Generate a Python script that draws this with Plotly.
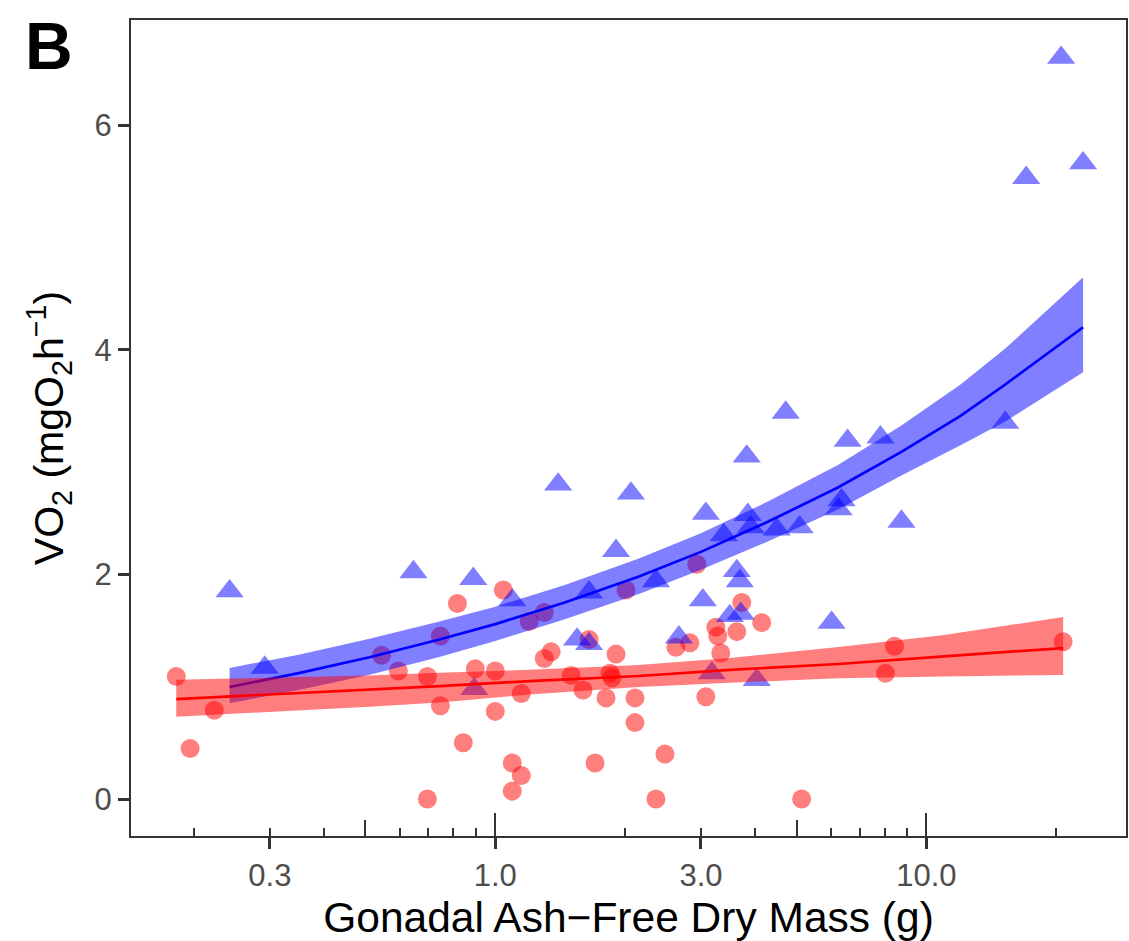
import plotly.graph_objects as go

# ---------------- data ----------------
red_x = [0.182, 0.196, 0.223, 0.545, 0.596, 0.696, 0.696, 0.746, 0.746, 0.817,
         0.843, 0.899, 1.0, 1.0, 1.044, 1.095, 1.149, 1.095, 1.149, 1.199,
         1.299, 1.299, 1.348, 1.500, 1.598, 1.704, 1.650, 1.906, 1.807, 1.846,
         1.866, 2.010, 2.109, 2.109, 2.475, 2.359, 2.624, 2.828, 2.935, 3.079,
         3.248, 3.282, 3.335, 3.633, 3.731, 4.150, 5.136, 8.434, 8.038, 20.76]
red_y = [1.09, 0.45, 0.79, 1.28, 1.14, 1.09, 0.0, 1.45, 0.83, 1.74,
         0.50, 1.16, 1.14, 0.78, 1.86, 0.32, 0.21, 0.07, 0.94, 1.58,
         1.66, 1.25, 1.31, 1.10, 0.97, 0.32, 1.42, 1.29, 0.90, 1.12,
         1.08, 1.86, 0.90, 0.68, 0.40, 0.0, 1.35, 1.39, 2.09, 0.91,
         1.53, 1.45, 1.30, 1.49, 1.75, 1.57, 0.0, 1.36, 1.12, 1.40]

blue_x = [0.242, 0.292, 0.646, 0.889, 0.894, 1.095, 1.399, 2.064, 1.906, 1.650,
          2.359, 3.389, 3.079, 3.852, 3.913, 4.497, 5.082, 3.633, 3.691, 3.030,
          3.500, 3.711, 1.548, 1.650, 2.667, 3.180, 4.042, 3.831, 4.717, 6.564,
          7.823, 15.24, 6.357, 6.257, 8.754, 6.028, 20.54, 17.04, 23.09]
blue_y = [1.85, 1.17, 2.02, 1.96, 0.98, 1.77, 2.80, 2.72, 2.21, 1.84,
          1.94, 2.35, 2.54, 2.53, 2.42, 2.40, 2.42, 2.03, 1.94, 1.77,
          1.63, 1.65, 1.42, 1.38, 1.44, 1.12, 1.06, 3.05, 3.44, 3.19,
          3.22, 3.35, 2.66, 2.58, 2.47, 1.57, 6.60, 5.53, 5.66]

# fitted curves and confidence bands
blue_fit_x = [0.242, 0.35, 0.511, 0.742, 1.0, 1.45, 2.154, 3.0, 4.3, 6.25, 8.75, 12.0, 15.24, 23.09]
blue_fit = [0.997, 1.12, 1.262, 1.42, 1.557, 1.75, 1.98, 2.20, 2.47, 2.775, 3.09, 3.41, 3.69, 4.20]
blue_hi = [1.167, 1.285, 1.427, 1.58, 1.712, 1.905, 2.14, 2.365, 2.65, 2.975, 3.325, 3.69, 4.01, 4.645]
blue_lo = [0.852, 0.97, 1.107, 1.265, 1.407, 1.60, 1.825, 2.04, 2.295, 2.58, 2.88, 3.15, 3.36, 3.80]

red_fit_x = [0.182, 0.3, 0.511, 0.742, 1.2, 2.154, 3.5, 6.25, 11.0, 20.76]
red_fit = [0.890, 0.930, 0.979, 1.004, 1.05, 1.095, 1.15, 1.202, 1.27, 1.344]
red_hi = [1.062, 1.082, 1.10, 1.125, 1.150, 1.193, 1.255, 1.353, 1.46, 1.620]
red_lo = [0.733, 0.774, 0.822, 0.86, 0.93, 0.997, 1.035, 1.075, 1.09, 1.104]

# axis ticks
x_tick_vals = [0.3, 1, 3, 10]
x_tick_text = ["0.3", "1.0", "3.0", "10.0"]
y_tick_vals = [0, 2, 4, 6]
log_short = [0.2, 0.4, 0.6, 0.7, 0.8, 0.9, 2, 4, 6, 7, 8, 9, 20]
log_short_on_major = [0.3, 3]
log_mid = [0.5, 5]
log_long = [1, 10]

X_RANGE = [-0.8449, 1.463]
Y_RANGE = [-0.3294, 6.935]

FONT = "Liberation Sans, Arial, Helvetica, sans-serif"
AXC = "#333333"

fig = go.Figure()

fig.add_trace(go.Scatter(x=red_x, y=red_y, mode="markers",
                         marker=dict(symbol="circle", size=19, color="rgba(255,0,0,0.5)",
                                     line=dict(width=0)),
                         hoverinfo="skip", showlegend=False))
fig.add_trace(go.Scatter(x=blue_x, y=blue_y, mode="markers",
                         marker=dict(symbol="triangle-up", size=24.5, color="rgba(0,0,255,0.5)",
                                     line=dict(width=0)),
                         hoverinfo="skip", showlegend=False))

def band(xs, lo, hi, col):
    return go.Scatter(x=list(xs) + list(xs)[::-1], y=list(hi) + list(lo)[::-1],
                      mode="lines", fill="toself", fillcolor=col,
                      line=dict(width=0), hoverinfo="skip", showlegend=False)

fig.add_trace(band(blue_fit_x, blue_lo, blue_hi, "rgba(0,0,255,0.5)"))
fig.add_trace(go.Scatter(x=blue_fit_x, y=blue_fit, mode="lines",
                         line=dict(color="#0000FF", width=2.7),
                         hoverinfo="skip", showlegend=False))
fig.add_trace(band(red_fit_x, red_lo, red_hi, "rgba(255,0,0,0.5)"))
fig.add_trace(go.Scatter(x=red_fit_x, y=red_fit, mode="lines",
                         line=dict(color="#FF0000", width=2.7),
                         hoverinfo="skip", showlegend=False))

# empty traces to register overlay axes for log tick marks
fig.add_trace(go.Scatter(x=[], y=[], xaxis="x2", yaxis="y", showlegend=False, hoverinfo="skip"))
fig.add_trace(go.Scatter(x=[], y=[], xaxis="x3", yaxis="y", showlegend=False, hoverinfo="skip"))

fig.update_layout(
    width=1129, height=941,
    margin=dict(l=131, r=1, t=20, b=105),
    paper_bgcolor="white", plot_bgcolor="white",
    showlegend=False,
    font=dict(family=FONT),
    xaxis=dict(
        type="log", range=X_RANGE,
        tickmode="array", tickvals=x_tick_vals, ticktext=x_tick_text,
        ticks="outside", ticklen=11, tickwidth=2.6, tickcolor=AXC,
        tickfont=dict(size=31, color="#4D4D4D", family=FONT),
        showline=True, linewidth=2.2, linecolor=AXC, mirror=True,
        showgrid=False, zeroline=False,
        minor=dict(tickmode="array", tickvals=log_short, ticks="inside",
                   ticklen=8, tickwidth=2, tickcolor=AXC, showgrid=False),
        title=dict(text="Gonadal Ash\u2212Free Dry Mass (g)",
                   font=dict(size=42.5, color="black", family=FONT), standoff=13),
    ),
    xaxis2=dict(
        type="log", range=X_RANGE, overlaying="x", anchor="y", side="bottom",
        tickmode="array", tickvals=log_long, ticks="inside", ticklen=23,
        tickwidth=2, tickcolor=AXC, showticklabels=False,
        showline=False, showgrid=False, zeroline=False,
        minor=dict(tickmode="array", tickvals=log_mid, ticks="inside",
                   ticklen=16, tickwidth=2, tickcolor=AXC, showgrid=False),
    ),
    xaxis3=dict(
        type="log", range=X_RANGE, overlaying="x", anchor="y", side="bottom",
        tickmode="array", tickvals=log_short_on_major, ticks="inside", ticklen=8,
        tickwidth=2, tickcolor=AXC, showticklabels=False,
        showline=False, showgrid=False, zeroline=False,
    ),
    yaxis=dict(
        range=Y_RANGE, tickmode="array", tickvals=y_tick_vals,
        ticks="outside", ticklen=11, tickwidth=2.6, tickcolor=AXC,
        tickfont=dict(size=31, color="#4D4D4D", family=FONT),
        showline=True, linewidth=2.2, linecolor=AXC, mirror=True,
        showgrid=False, zeroline=False,
        title=dict(text="VO<sub>2</sub> (mgO<sub>2</sub>h<sup>\u22121</sup>)",
                   font=dict(size=41, color="black", family=FONT), standoff=18),
    ),
    annotations=[dict(text="<b>B</b>", xref="paper", yref="paper",
                      x=-0.1083, y=0.968, xanchor="left", yanchor="middle",
                      showarrow=False, font=dict(size=66, color="black", family=FONT))],
)

fig.write_html("out.html", config={"displayModeBar": False},
               post_script="document.body.style.margin='0';")
